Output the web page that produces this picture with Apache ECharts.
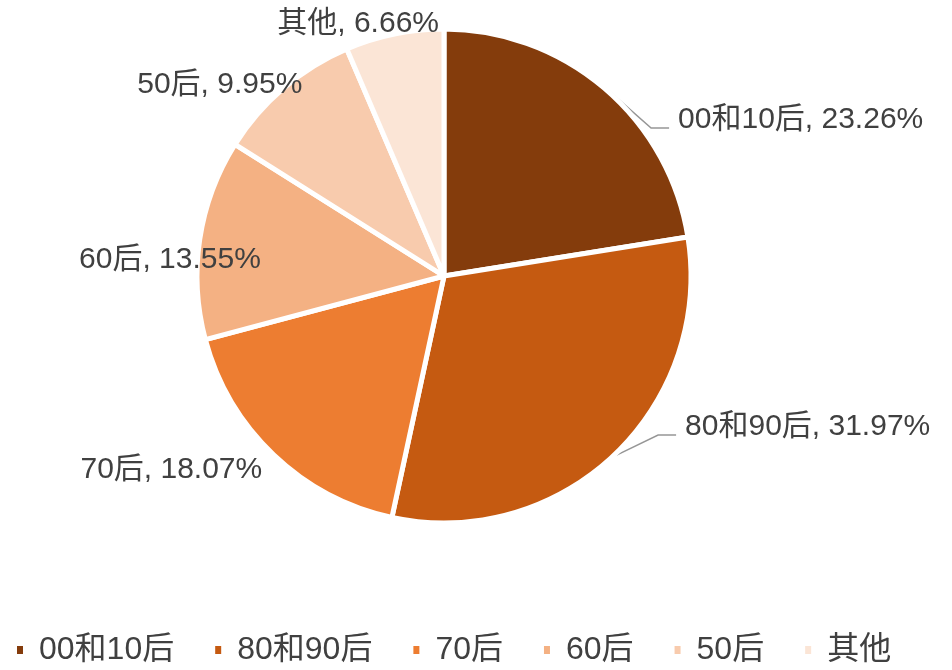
<!DOCTYPE html>
<html><head><meta charset="utf-8">
<script src="https://cdn.jsdelivr.net/npm/echarts@6/dist/echarts.min.js"></script>
<style>html,body{margin:0;padding:0;background:#fff}#c{width:952px;height:670px}</style>
</head><body><div id="c"></div>
<script>
const categories = ['00和10后', '80和90后', '70后', '60后', '50后', '其他'];
const values = [23.26, 31.97, 18.07, 13.55, 9.95, 6.66];
const colors = ['#843C0C', '#C55A11', '#ED7D31', '#F4B183', '#F8CBAD', '#FBE5D6'];
const showLine = [true, true, false, false, false, false];

const CX = 444, CY = 276, R = 247;
const total = values.reduce((a, b) => a + b, 0);
let acc = 0;
const mids = values.map(v => { const m = (acc + v / 2) / total * 2 * Math.PI; acc += v; return m; });

const font = "'Liberation Sans', Arial, 'Noto Sans CJK SC', sans-serif";
const chart = echarts.init(document.getElementById('c'));
chart.setOption({
  animation: false,
  color: colors,
  legend: {
    bottom: -1, left: 10, icon: 'rect', itemWidth: 8, itemHeight: 10, itemGap: 39,
    textStyle: { fontSize: 32, color: '#404040', fontFamily: font, padding: [0, 0, 0, 10] },
    data: categories
  },
  series: [{
    type: 'pie', center: [CX, CY], radius: R, startAngle: 90, clockwise: true,
    itemStyle: { borderColor: '#fff', borderWidth: 5 },
    label: {
      position: 'outside',
      formatter: p => p.name + ', ' + p.value.toFixed(2) + '%',
      fontSize: 30, color: '#404040', fontFamily: font
    },
    labelLine: { length: 12, length2: 20, lineStyle: { color: '#969696', width: 1.5 } },
    labelLayout: function (p) {
      const i = p.dataIndex;
      const s = [[41, 41], [38, -37], [-5, 13], [68, 21], [25, -2], [50, -8]][i];
      const r = p.labelRect;
      const out = { dx: s[0], dy: s[1] };
      if (showLine[i]) {
        const x = r.x + s[0], y = r.y + r.height / 2 + s[1] + 8;
        const start = [CX + (R + 1) * Math.sin(mids[i]), CY - (R + 1) * Math.cos(mids[i])];
        out.labelLinePoints = [start, [x - 27, y], [x - 9, y]];
      }
      return out;
    },
    data: categories.map((n, i) => ({
      name: n, value: values[i],
      labelLine: showLine[i] ? { show: true } : { show: false, length: 2, length2: 0 }
    }))
  }]
});
</script></body></html>
